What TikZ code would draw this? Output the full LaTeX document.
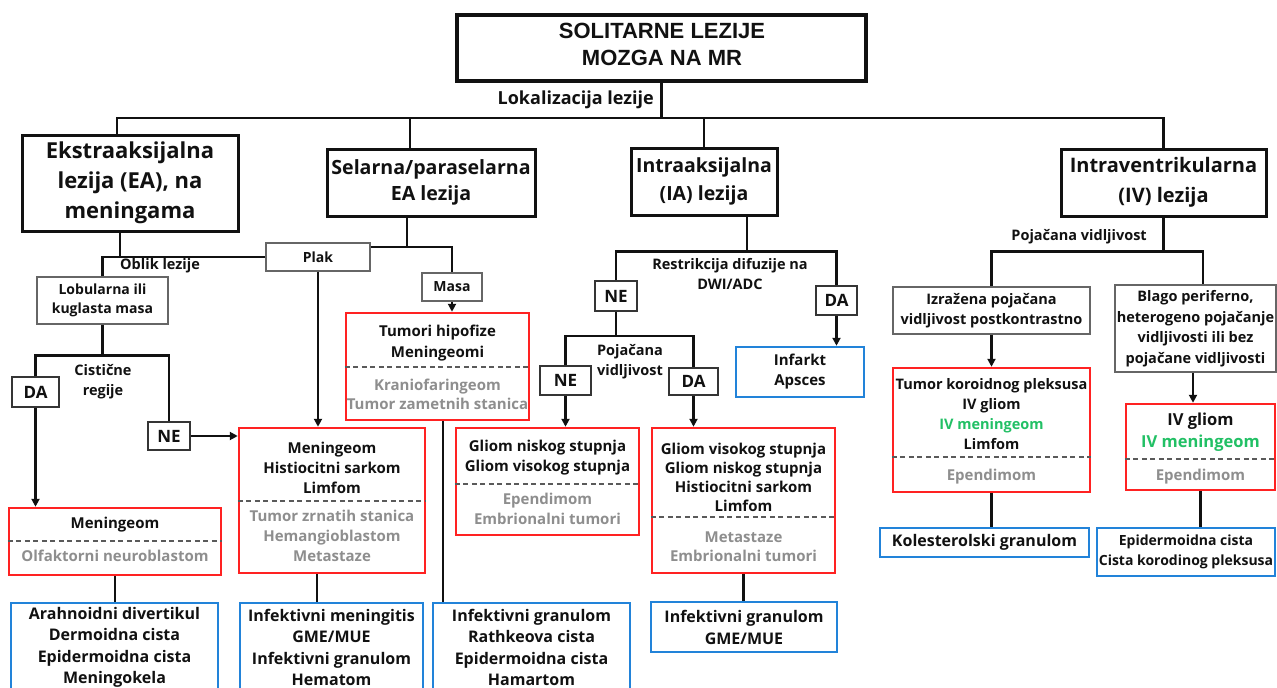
\documentclass[tikz,border=0pt]{standalone}
\usepackage{fontspec}
\setmainfont{Open Sans}
\newfontfamily\titlefont{Liberation Sans}
\usetikzlibrary{arrows.meta,positioning,calc}
\definecolor{cInk}{HTML}{111111}
\definecolor{cEdge}{HTML}{666666}
\definecolor{cRed}{HTML}{FF2222}
\definecolor{cBlue}{HTML}{2283D9}
\definecolor{cGreen}{HTML}{22C065}
\definecolor{cGrey}{HTML}{8E8E8E}
\definecolor{cDash}{HTML}{5A5A5A}
\newcommand\fsz[2]{\fontsize{#1}{#2}\selectfont\bfseries}

\begin{document}
\begin{tikzpicture}[
  x=1pt, y=-1pt,
  every node/.style={text=cInk, inner sep=0pt, align=center},
  top/.style={draw=cInk, line width=3.3pt},
  head/.style={draw=cInk, line width=3pt, font=\fsz{21}{28}},
  lbl/.style={draw=cEdge, line width=1.4pt, font=\fsz{14.5}{20}},
  yn/.style={draw=cInk!85, line width=1.7pt, font=\fsz{17}{20}},
  ddx/.style={draw=cRed, line width=2.5pt},
  alt/.style={draw=cBlue, line width=2.5pt, font=\fsz{16}{22}},
  dx/.style={font=\fsz{15}{20}},
  dxlow/.style={dx, text=cGrey},
  split/.style={cDash, line width=1.2pt, dash pattern=on 5pt off 3.5pt},
  note/.style={font=\fsz{14.5}{20}},
  link/.style={cInk, line width=2.6pt},
  arr/.style={link, -{Triangle[length=8pt,width=8pt]}},
]
\path[use as bounding box, fill=white] (0,0) rectangle (1277,688);
\clip (0,0) rectangle (1277,688);
% ---------------------------------------------------------------- title
\node[top, minimum width=409, minimum height=66] (title) at (661.5,48) {};
\node[font=\titlefont\fontsize{22}{27}\selectfont\bfseries] (titletxt) at (662,44)
  {SOLITARNE LEZIJE\\MOZGA NA MR};
\node[note, font=\fsz{18}{20}, anchor=east] (lok) at (654,100) {Lokalizacija lezije};
% ---------------------------------------------------------------- row 1
\node[head, font=\fsz{22}{30}, minimum width=216, minimum height=96] (ea) at (130,183)
  {Ekstraaksijalna\\lezija (EA), na\\meningama};
\node[head, font=\fsz{19.6}{26}, minimum width=208, minimum height=67] (sel) at (431,182.5)
  {Selarna/paraselarna\\EA lezija};
\node[head, font=\fsz{19.5}{28}, minimum width=146, minimum height=67] (ia) at (704,181.5)
  {Intraaksijalna\\(IA) lezija};
\node[head, font=\fsz{20}{30}, minimum width=205, minimum height=67] (iv) at (1163.5,182.5)
  {Intraventrikularna\\(IV) lezija};
% ---------------------------------------------------------------- EA / selar
\node[lbl, font=\fsz{14}{20}, minimum width=104, minimum height=28] (plak) at (318,257) {Plak};
\node[lbl, font=\fsz{14}{20}, minimum width=60, minimum height=28] (masa) at (452,287) {Masa};
\node[lbl, font=\fsz{14}{19}, minimum width=131, minimum height=47] (lob) at (102.5,300.5)
  {Lobularna ili\\kuglasta masa};
\node[note, anchor=west] (oblik) at (120,266) {Oblik lezije};
\node[note] (cist) at (103,382) {Cistične\\regije};
\node[yn, minimum width=47, minimum height=30] (daA) at (35.5,392) {DA};
\node[yn, minimum width=42, minimum height=28] (neA) at (169,436) {NE};
% red boxes
\node[ddx, minimum width=183, minimum height=107] (hyp) at (437.5,366.5) {};
\node[dx, font=\fsz{15}{21}] (hypA) at (437.5,343.5) {Tumori hipofize\\Meningeomi};
\node[dxlow, font=\fsz{15}{19}] (hypB) at (437.5,394.5) {Kraniofaringeom\\Tumor zametnih stanica};
\node[ddx, minimum width=212, minimum height=67] (mA) at (115,541.5) {};
\node[dx] (mAa) at (115,525) {Meningeom};
\node[dxlow] (mAb) at (115,556) {Olfaktorni neuroblastom};
\node[ddx, minimum width=186, minimum height=145] (mB) at (332,500.5) {};
\node[dx] (mBa) at (332,468) {Meningeom\\Histiocitni sarkom\\Limfom};
\node[dxlow] (mBb) at (332,536) {Tumor zrnatih stanica\\Hemangioblastom\\Metastaze};
% blue boxes
\node[alt, font=\fsz{16}{21.5}, minimum width=207, minimum height=89] (bA) at (114.5,647.5)
  {Arahnoidni divertikul\\Dermoidna cista\\Epidermoidna cista\\Meningokela};
\node[alt, font=\fsz{16}{21.5}, minimum width=183, minimum height=89] (bB) at (331.5,647.5)
  {Infektivni meningitis\\GME/MUE\\Infektivni granulom\\Hematom};
\node[alt, font=\fsz{16}{21.5}, minimum width=197, minimum height=89] (bC) at (531.5,647.5)
  {Infektivni granulom\\Rathkeova cista\\Epidermoidna cista\\Hamartom};
% ---------------------------------------------------------------- IA
\node[note] (restr) at (730,274.5) {Restrikcija difuzije na\\DWI/ADC};
\node[yn, minimum width=42, minimum height=30] (neB) at (616,296) {NE};
\node[yn, minimum width=41, minimum height=29] (daB) at (836.5,300.5) {DA};
\node[alt, font=\fsz{15}{20}, minimum width=128, minimum height=50] (inf) at (800,372)
  {Infarkt\\Apsces};
\node[note] (poj) at (630,362) {Pojačana\\vidljivost};
\node[yn, minimum width=51, minimum height=29] (neC) at (565.5,380.5) {NE};
\node[yn, minimum width=49, minimum height=27] (daC) at (693.5,381.5) {DA};
\node[ddx, minimum width=183, minimum height=107] (gA) at (547.5,481.5) {};
\node[dx] (gAa) at (547.5,458) {Gliom niskog stupnja\\Gliom visokog stupnja};
\node[dxlow] (gAb) at (547.5,509) {Ependimom\\Embrionalni tumori};
\node[ddx, minimum width=183, minimum height=145] (gB) at (743.5,500.5) {};
\node[dx, font=\fsz{15}{19}] (gBa) at (743.5,477.5)
  {Gliom visokog stupnja\\Gliom niskog stupnja\\Histiocitni sarkom\\Limfom};
\node[dxlow, font=\fsz{15}{19}] (gBb) at (743.5,546.5) {Metastaze\\Embrionalni tumori};
\node[alt, minimum width=186, minimum height=50] (bD) at (744,627)
  {Infektivni granulom\\GME/MUE};
% ---------------------------------------------------------------- IV
\node[note, anchor=east] (pojIV) at (1147,237) {Pojačana vidljivost};
\node[lbl, minimum width=197, minimum height=47] (izr) at (991.5,310.5)
  {Izražena pojačana\\vidljivost postkontrastno};
\node[lbl, font=\fsz{14.5}{20.5}, minimum width=161, minimum height=87] (blago) at (1195.5,328.5)
  {Blago periferno,\\heterogeno pojačanje\\vidljivosti ili bez\\pojačane vidljivosti};
\node[ddx, minimum width=197, minimum height=124] (tk) at (991.5,430) {};
\node[dx, font=\fsz{14.5}{20}] (tkA) at (991.5,414)
  {Tumor koroidnog pleksusa\\IV gliom\\\textcolor{cGreen}{IV meningeom}\\Limfom};
\node[dxlow] (tkB) at (991.5,477) {Ependimom};
\node[ddx, minimum width=149, minimum height=86] (ivg) at (1200.5,447) {};
\node[dx, font=\fsz{16.5}{22}] (ivgA) at (1200.5,432) {IV gliom\\\textcolor{cGreen}{IV meningeom}};
\node[dxlow] (ivgB) at (1200.5,477) {Ependimom};
\node[alt, minimum width=209, minimum height=29] (kol) at (984.5,542.5) {Kolesterolski granulom};
\node[alt, font=\fsz{14}{20}, minimum width=178, minimum height=48] (epi) at (1186,552)
  {Epidermoidna cista\\Cista korodinog pleksusa};
% ---------------------------------------------------------------- dashed splits
\draw[split] ([yshift=-0.5pt]hyp.west) -- ([yshift=-0.5pt]hyp.east);
\draw[split] ([yshift=0.5pt]mA.west) -- ([yshift=0.5pt]mA.east);
\draw[split] ([yshift=-0.5pt]mB.west) -- ([yshift=-0.5pt]mB.east);
\draw[split] ([yshift=-2.5pt]gA.west) -- ([yshift=-2.5pt]gA.east);
\draw[split] ([yshift=-16.5pt]gB.west) -- ([yshift=-16.5pt]gB.east);
\draw[split] ([yshift=-27pt]tk.west) -- ([yshift=-27pt]tk.east);
\draw[split] ([yshift=-12pt]ivg.west) -- ([yshift=-12pt]ivg.east);
% ---------------------------------------------------------------- arrows
\coordinate (bus) at (0,118);
\draw[link] (title.south) -- (title.south |- bus);
\draw[link] ([xshift=-13pt]ea.north) |- (iv.north |- bus) -- (iv.north);
\draw[link] ([xshift=-21pt]sel.north) -- ([xshift=-21pt]sel.north |- bus);
\draw[link] (ia.north) -- (ia.north |- bus);
% EA
\draw[link] ([xshift=-10pt]ea.south) -- ([xshift=-10pt]ea.south |- plak.west);
\draw[link] (lob.north) |- (plak.west);
\draw[link] ([xshift=-24pt]sel.south) |- ([yshift=10pt]plak.east);
\draw[link] ([yshift=10pt]plak.east) -| (masa.north);
\draw[arr] (plak.south) -- (plak.south |- mB.north);
\draw[arr] (masa.south) -- (masa.south |- hyp.north);
\draw[link] ([xshift=5.5pt]hyp.south) -- ([xshift=5.5pt]hyp.south |- bC.north);
\draw[link] (lob.south) -- ([yshift=-31pt]lob.south);
\draw[link] (daA.north) |- ([yshift=-31pt]lob.south) -| (neA.north);
\draw[arr] (daA.south) -- (daA.south |- mA.north);
\draw[arr] (neA.east) -- (neA.east -| mB.west);
\draw[link] (mA.south) -- (mA.south |- bA.north);
\draw[link] ([xshift=-15pt]mB.south) -- ([xshift=-15pt]mB.south |- bB.north);
% IA
\draw[link] ([xshift=43pt]ia.south) -- ([xshift=43pt,yshift=-35pt]ia.south);
\draw[link] (neB.north) |- ([xshift=43pt,yshift=-35pt]ia.south) -| (daB.north);
\draw[arr] (daB.south) -- (daB.south |- inf.north);
\draw[link] (neB.south) -- ([yshift=-24pt]neB.south);
\draw[link] (neC.north) |- ([yshift=-24pt]neB.south) -| (daC.north);
\draw[arr] (neC.south) -- (neC.south |- gA.north);
\draw[arr] (daC.south) -- (daC.south |- gB.north);
\draw[link] (gB.south) -- (gB.south |- bD.north);
% IV
\draw[link] (iv.south) -- ([yshift=-34pt]iv.south);
\draw[link] (izr.north) |- ([yshift=-34pt]iv.south) -| ([xshift=7.5pt]blago.north);
\draw[arr] (izr.south) -- (izr.south |- tk.north);
\draw[arr] ([xshift=-2.5pt]blago.south) -- ([xshift=-2.5pt]blago.south |- ivg.north);
\draw[link] (tk.south) -- (tk.south |- kol.north);
\draw[link] (ivg.south) -- (ivg.south |- epi.north);
\end{tikzpicture}
\end{document}
